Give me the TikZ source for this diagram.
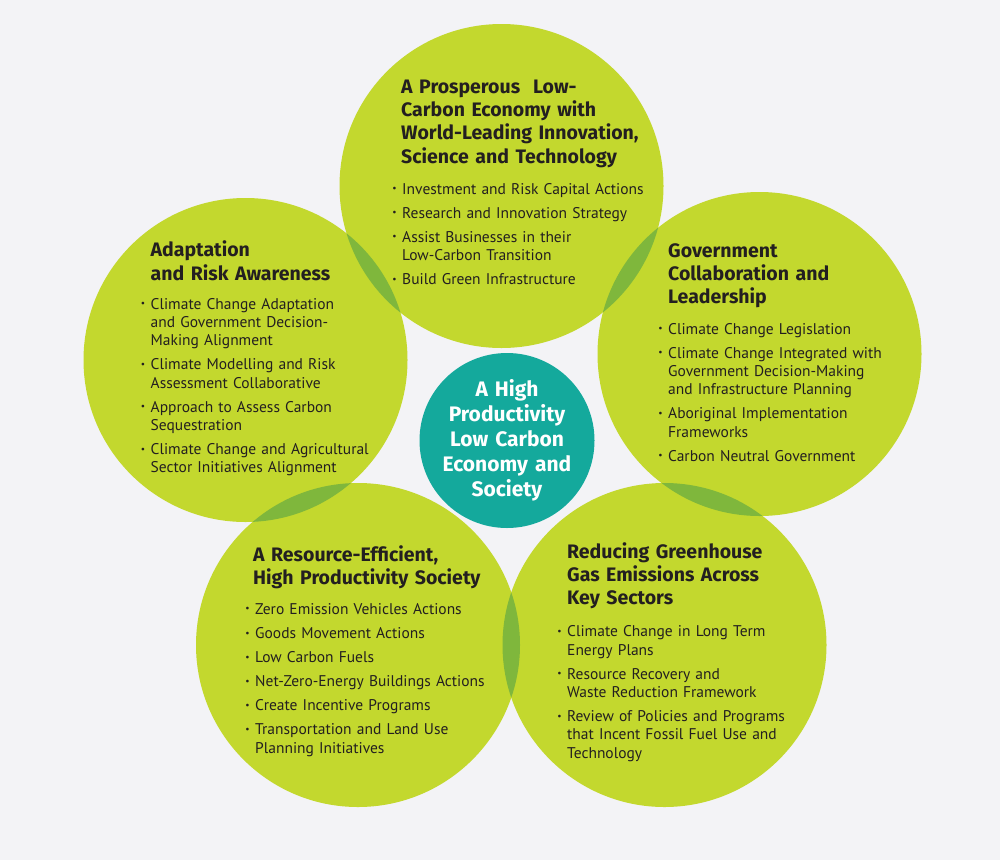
\documentclass[tikz,border=0pt]{standalone}
\usepackage{fontspec}
\setmainfont{PT Sans}
\newfontfamily\headfont{Fira Sans}
\usepackage{xcolor}
\usepackage{tikz}

\definecolor{paper}{HTML}{F3F3F6}
\definecolor{leaf}{HTML}{C3D82E}
\definecolor{leafdark}{HTML}{7FB73C}
\definecolor{hubteal}{HTML}{14A99C}
\definecolor{ink}{HTML}{231F20}

% small outdented bullet for the item lists
\newcommand{\bul}{\leavevmode\llap{\raisebox{.3ex}{\fontsize{9.5}{9.5}\selectfont\textbullet}\hspace{5.5pt}}}

\begin{document}
\begin{tikzpicture}[
        x=1pt, y=-1pt,
        bubble/.style={circle, fill=leaf, minimum size=324pt, inner sep=0pt},
        hub/.style={circle, fill=hubteal, minimum size=175pt, inner sep=0pt},
        head/.style={anchor=base west, inner sep=0pt, text=ink, align=left, text width=290pt,
            font=\headfont\fontsize{19.5}{23.3}\selectfont\bfseries},
        items/.style={anchor=base west, inner sep=0pt, text=ink, align=left, text width=270pt,
            font=\fontsize{15.5}{18.3}\selectfont,
            execute at begin node=\setlength{\parskip}{5.8pt}},
        hubtext/.style={anchor=base, inner sep=0pt, text=white, align=center, text width=170pt,
            font=\headfont\fontsize{21}{25}\selectfont\bfseries}
    ]
        \useasboundingbox[fill=paper] (0,0) rectangle (1000,860);

        \node[bubble] (top) at (501.5,186) {};
        \node[bubble] (left) at (245.5,360) {};
        \node[bubble] (right) at (759.5,354) {};
        \node[bubble] (botleft) at (358,645) {};
        \node[bubble] (botright) at (664.5,645) {};

        % darker lenses where neighbours overlap
        \begin{scope}
            \clip (top.center) circle (162pt);
            \fill[leafdark] (left.center) circle (162pt);
            \fill[leafdark] (right.center) circle (162pt);
        \end{scope}
        \begin{scope}
            \clip (botleft.center) circle (162pt);
            \fill[leafdark] (left.center) circle (162pt);
            \fill[leafdark] (botright.center) circle (162pt);
        \end{scope}
        \begin{scope}
            \clip (botright.center) circle (162pt);
            \fill[leafdark] (right.center) circle (162pt);
        \end{scope}

        \node[hub] (core) at (507,440.5) {};
        \node[hubtext] (coreText) at (507,396.7) {A High\\Productivity\\Low Carbon\\Economy and\\Society};

        \node[head] (topHead) at (401,93.3) {A Prosperous~ Low-\\Carbon Economy with\\World-Leading Innovation,\\Science and Technology};
        \node[items] (topList) at (402,194) {\bul Investment and Risk Capital Actions\par
            \bul Research and Innovation Strategy\par
            \bul Assist Businesses in their\\Low-Carbon Transition\par
            \bul Build Green Infrastructure};

        \node[head] (leftHead) at (150.5,256.7) {Adaptation\\and Risk Awareness};
        \node[items] (leftList) at (150.5,309) {\bul Climate Change Adaptation\\and Government Decision-\\Making Alignment\par
            \bul Climate Modelling and Risk\\Assessment Collaborative\par
            \bul Approach to Assess Carbon\\Sequestration\par
            \bul Climate Change and Agricultural\\Sector Initiatives Alignment};

        \node[head] (rightHead) at (668,257.3) {Government\\Collaboration and\\Leadership};
        \node[items] (rightList) at (668,334) {\bul Climate Change Legislation\par
            \bul Climate Change Integrated with\\Government Decision-Making\\and Infrastructure Planning\par
            \bul Aboriginal Implementation\\Frameworks\par
            \bul Carbon Neutral Government};

        \node[head] (botleftHead) at (253,561) {A Resource-Efficient,\\High Productivity Society};
        \node[items] (botleftList) at (255,614.3) {\bul Zero Emission Vehicles Actions\par
            \bul Goods Movement Actions\par
            \bul Low Carbon Fuels\par
            \bul Net-Zero-Energy Buildings Actions\par
            \bul Create Incentive Programs\par
            \bul Transportation and Land Use\\Planning Initiatives};

        \node[head] (botrightHead) at (567,558.3) {Reducing Greenhouse\\Gas Emissions Across\\Key Sectors};
        \node[items] (botrightList) at (567,636.7) {\bul Climate Change in Long Term\\Energy Plans\par
            \bul Resource Recovery and\\Waste Reduction Framework\par
            \bul Review of Policies and Programs\\that Incent Fossil Fuel Use and\\Technology};
    \end{tikzpicture}
\end{document}
